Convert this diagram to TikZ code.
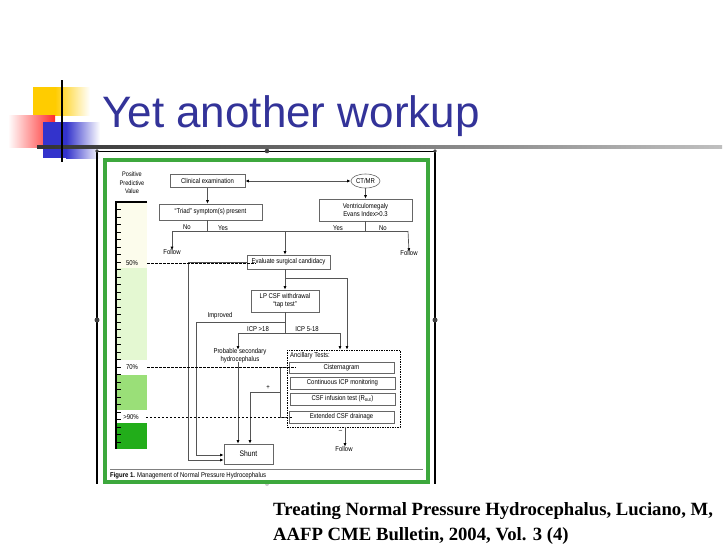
\documentclass[tikz,border=0pt]{standalone}
\usepackage{fontspec}
\setmainfont{Liberation Sans}
\newfontfamily\figf[FakeStretch=0.85]{Liberation Sans}
\newfontfamily\refserif{Liberation Serif}
\usetikzlibrary{arrows.meta,shapes.geometric}
\definecolor{titleblue}{HTML}{333399}
\definecolor{decoyellow}{HTML}{FFCC00}
\definecolor{decored}{HTML}{FF2A2A}
\definecolor{decoblue}{HTML}{3333CC}
\definecolor{framegreen}{HTML}{3DA83D}
\definecolor{boxgray}{HTML}{666666}
\definecolor{linegray}{HTML}{555555}
\definecolor{cream}{HTML}{FCFCEC}
\definecolor{pgreen}{HTML}{E4F8D2}
\definecolor{mgreen}{HTML}{9ADF78}
\definecolor{dgreen}{HTML}{22AD1A}
\newcommand\figtxt{\figf\fontsize{7}{7.8}\selectfont}
\tikzset{
  fbox/.style={draw=boxgray, line width=0.6pt, fill=white, inner sep=0pt, font=\figtxt, align=center},
  ftxt/.style={inner sep=0pt, font=\figtxt, align=center},
  fl/.style={draw=linegray, line width=0.7pt},
  fa/.style={fl, -{Latex[length=3.5pt,width=3pt,color=black]}},
  fab/.style={fl, {Latex[length=3.5pt,width=3pt,color=black]}-{Latex[length=3.5pt,width=3pt,color=black]}},
  dsh/.style={draw=black, line width=0.8pt, dash pattern=on 2.5pt off 1.5pt},
  handle/.style={fill=gray!50!black},
}
\begin{document}
\begin{tikzpicture}[x=1pt,y=-1pt]
\useasboundingbox (0,0) rectangle (728,546);
\fill[white] (0,0) rectangle (728,546);
% decoration
\fill[decoyellow] (33,87) rectangle (55,115);
\shade[left color=decoyellow, right color=white] (55,87) rectangle (90,115);
\shade[left color=white, right color=decored] (8,115) rectangle (55,147);
\fill[decoblue] (43,122) rectangle (66,158);
\shade[left color=decoblue, right color=white] (66,122) rectangle (100,158);
\shade[left color=black!80, right color=black!25] (37,145.5) rectangle (722,148.5);
\draw[black, line width=2.5pt] (62,80) -- (62,162);
% title
\node[anchor=base west, inner sep=0pt, font=\fontsize{44}{50}\selectfont, text=titleblue] (title) at (102,127) {Yet another workup};
% image frame
\draw[black, line width=0.6pt] (97,151) -- (435,151);
\draw[black, line width=1.6pt] (97,151) -- (97,484);
\draw[black, line width=1.6pt] (435,151) -- (435,484);
\fill[handle] (267,151) circle (2.3);
\fill[handle] (97,320) circle (2.5);
\fill[handle] (435,320) circle (2.5);
\fill[handle] (97,151) circle (1.8);
\fill[handle] (435,151) circle (1.8);
\fill[gray!40] (267,484) circle (2);
% green frame
\draw[framegreen, line width=4pt] (105,160) rectangle (428,482);
% PPV bar
\node[ftxt, font=\figf\fontsize{6.6}{8.4}\selectfont] (ppv) at (132,183) {Positive\\Predictive\\Value};
\fill[cream] (116,202) rectangle (147,268);
\fill[pgreen] (116,268) rectangle (147,360);
\fill[mgreen] (116,375) rectangle (147,410);
\fill[dgreen] (116,423) rectangle (147,449);
\draw[black, line width=1.4pt] (147,202) -- (116,202) -- (116,449);
\foreach \t in {209.5,217,...,442} \draw[black, line width=0.5pt] (116,\t) -- (121,\t);
\node[ftxt] (pct50) at (132,263) {50\%};
\node[ftxt] (pct70) at (132,367) {70\%};
\node[ftxt] (pct90) at (131,417) {>90\%};
% boxes
\node[fbox, minimum width=75pt, minimum height=13pt] (clin) at (207.5,181) {Clinical examination};
\node[fbox, ellipse, minimum width=29pt, minimum height=14pt] (ct) at (365.5,181) {CT/MR};
\node[fbox, minimum width=103pt, minimum height=16pt] (triad) at (210.5,212) {“Triad” symptom(s) present};
\node[fbox, minimum width=93pt, minimum height=22pt] (vent) at (365.5,210) {Ventriculomegaly\\Evans Index>0.3};
\node[fbox, minimum width=83pt, minimum height=14pt] (eval) at (288.5,262) {Evaluate surgical candidacy};
\node[fbox, minimum width=68pt, minimum height=22pt] (lp) at (285,301) {LP CSF withdrawal\\“tap test”};
\node[draw=black, line width=0.8pt, dash pattern=on 1.5pt off 1pt, minimum width=113pt, minimum height=77pt, inner sep=0pt] (anc) at (343.5,388.5) {};
\node[ftxt, anchor=west] (anct) at (290,356) {Ancillary Tests:};
\node[fbox, minimum width=105pt, minimum height=11pt] (cist) at (341.5,367.5) {Cisternagram};
\node[fbox, minimum width=105pt, minimum height=12pt] (cicp) at (342.5,383) {Continuous ICP monitoring};
\node[fbox, minimum width=105pt, minimum height=12pt] (csfi) at (342.5,399) {CSF infusion test (R\textsubscript{out})};
\node[fbox, minimum width=105pt, minimum height=12pt] (ecsf) at (341.5,417) {Extended CSF drainage};
\node[fbox, minimum width=49pt, minimum height=20pt, font=\figf\fontsize{8}{9}\selectfont] (shunt) at (248.5,454) {Shunt};
\node[ftxt] (prob) at (240,356) {Probable secondary\\hydrocephalus};
\node[ftxt] (fol1) at (172,251.5) {Follow};
\node[ftxt] (fol2) at (409,253) {Follow};
\node[ftxt] (fol3) at (344,448.5) {Follow};
\node[ftxt] (no1) at (187,227) {No};
\node[ftxt] (yes1) at (223,228) {Yes};
\node[ftxt] (yes2) at (338,228) {Yes};
\node[ftxt] (no2) at (383,228) {No};
\node[ftxt] (imp) at (220,316) {Improved};
\node[ftxt] (icp1) at (258,329) {ICP >18};
\node[ftxt] (icp2) at (307,329) {ICP 5-18};
\node[ftxt] (plus) at (268,387) {+};
\node[ftxt] (minus) at (340.5,431.5) {–};
% connectors
\draw[fab] (clin.east) -- (ct.west);
\draw[fa] (clin.south) -- (clin.south |- triad.north);
\draw[fa] (ct.south) -- (vent.north);
\coordinate (ja) at (172,231);
\coordinate (jb) at (285,231);
\coordinate (jc) at (408,231);
\draw[fl] (clin.south |- triad.south) |- (ja);
\draw[fl] (clin.south |- triad.south) |- (jb);
\draw[fl] (vent.south) |- (jb);
\draw[fl] (vent.south) |- (jc);
\draw[fa] (ja) -- ([yshift=-1.5pt]fol1.north);
\draw[fa, line width=1pt] (jb) -- (jb |- eval.north);
\draw[fa] (jc) -- ([yshift=-1.5pt]fol2.north);
\coordinate (je) at (285,278);
\coordinate (a2x) at (347,0);
\draw[fa] (lp.north |- eval.south) -- (lp.north);
\draw[fa] (je) -| (a2x |- anc.north);
\coordinate (c1) at (188,262);
\coordinate (c1b) at (188,460);
\draw[fa] (eval.west) -- (c1) -- (c1b) -- (c1b -| shunt.west);
\coordinate (jl) at (285,322);
\coordinate (jl2) at (285,333);
\draw[fl] (lp.south) -- (jl2);
\coordinate (c2) at (196,322);
\coordinate (c2b) at (196,455);
\draw[fa] (jl) -- (c2) -- (c2b) -- (c2b -| shunt.west);
\coordinate (p1) at (238,333);
\coordinate (p2) at (340,333);
\draw[fl] (p1) -- (p2);
\draw[fa] (p1) -- ([yshift=-1pt]p1 |- prob.north);
\draw[fa] (p2) -- (p2 |- anc.north);
\draw[fa] ([yshift=1pt]p1 |- prob.south) -- (p1 |- shunt.north);
\coordinate (bx) at (280,0);
\coordinate (bm) at (280,392);
\coordinate (b3) at (250,392);
\draw[fl] (cist.west -| anc.west) -- (cist.west -| bx) -- (ecsf.west -| bx) -- (ecsf.west -| anc.west);
\draw[fa] (bm) -- (b3) -- (b3 |- shunt.north);
\coordinate (a3x) at (345,0);
\draw[fa] (a3x |- anc.south) -- ([yshift=-1pt]fol3.north -| a3x);
% dashed PPV lines
\draw[dsh] ([xshift=9pt]pct50.east) -- ([xshift=9pt]pct50.east -| eval.west);
\draw[dsh] ([xshift=9pt]pct70.east) -- ([xshift=9pt]pct70.east -| anc.west);
\draw[dsh] ([xshift=7pt]pct90.east) -- ([xshift=7pt]pct90.east -| anc.west);
% caption
\draw[gray, line width=0.5pt] (110,469) -- (423,469);
\node[ftxt, anchor=west] (cap) at (110,475.5) {\textbf{Figure 1.} Management of Normal Pressure Hydrocephalus};
% reference
\node[anchor=base west, inner sep=0pt, font=\refserif\bfseries\fontsize{18.7}{22}\selectfont] (ref1) at (273,515) {Treating Normal Pressure Hydrocephalus, Luciano, M,};
\node[anchor=base west, inner sep=0pt, font=\refserif\bfseries\fontsize{18.7}{22}\selectfont] (ref2) at (273,540) {AAFP CME Bulletin, 2004, Vol. 3 (4)};
\end{tikzpicture}
\end{document}
